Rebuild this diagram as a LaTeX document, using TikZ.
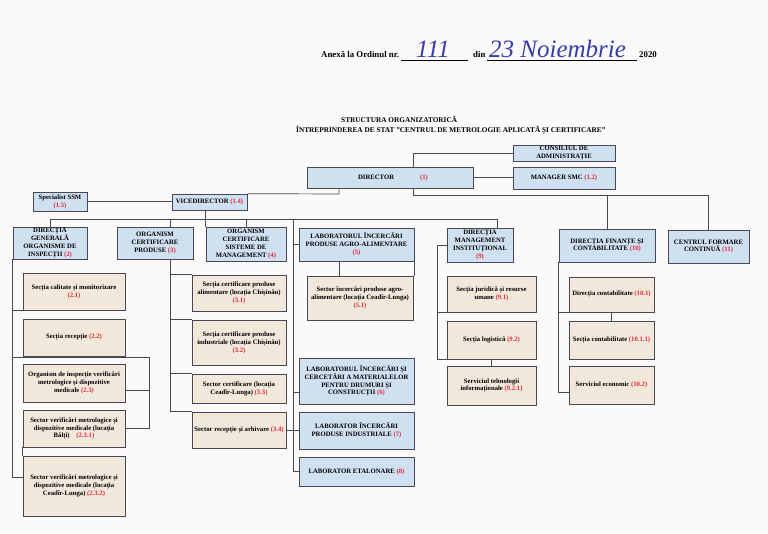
\documentclass[tikz,border=0pt]{standalone}
\usepackage{fontspec}
\setmainfont{Liberation Serif}
\usetikzlibrary{calc}
\definecolor{linegray}{RGB}{72,72,82}
\definecolor{boxblue}{RGB}{207,224,241}
\definecolor{boxbeige}{RGB}{241,232,220}
\definecolor{nrred}{RGB}{228,40,52}
\definecolor{inkblue}{RGB}{52,62,170}
\definecolor{paper}{RGB}{251,249,249}
\newcommand{\rnum}[1]{\textcolor{nrred}{#1}}
\tikzset{
 orgbox/.style={draw=linegray, line width=.7pt, align=center, inner sep=1pt, font=\fontsize{6.7}{7.9}\selectfont\bfseries},
 blu/.style={orgbox, fill=boxblue},
 bej/.style={orgbox, fill=boxbeige},
 wire/.style={draw=linegray, line width=.7pt},
 hand/.style={text=inkblue, inner sep=0pt, font=\fontsize{25}{25}\selectfont\itshape},
 head/.style={anchor=base west, inner sep=0pt, font=\fontsize{8.8}{9}\selectfont\bfseries},
 titl/.style={anchor=base west, inner sep=0pt, font=\fontsize{7.3}{8}\selectfont\bfseries},
}
\begin{document}
\begin{tikzpicture}[x=1pt, y=-1pt]
\fill[paper] (0,0) rectangle (768,533);
\useasboundingbox (0,0) rectangle (768,533);
% antet
\node[head] (anexa) at (321,57) {Anexă la Ordinul nr.};
\draw (401,60) -- (468,60);
\node[hand, anchor=base] (nr) at (433,57) {111};
\node[head] (din) at (473,57) {din};
\draw (487,60) -- (637,60);
\node[hand, anchor=base west] (data) at (489,57) {23 Noiembrie};
\node[head] (an) at (639,57) {2020};
\node[titl] (titlu) at (341,122) {STRUCTURA ORGANIZATORICĂ};
\node[titl] (titlu2) at (296,132) {ÎNTREPRINDEREA DE STAT "CENTRUL DE METROLOGIE APLICATĂ ȘI CERTIFICARE"};
% conducere
\node[blu, minimum width=102pt, minimum height=16pt] (cons) at (564,153) {CONSILIUL DE\\ADMINISTRAȚIE};
\node[blu, minimum width=166pt, minimum height=21pt] (dir) at (390,177.5) {\hspace*{6pt}DIRECTOR\hspace{26pt}\rnum{(1)}};
\node[blu, minimum width=102pt, minimum height=22pt] (smc) at (564,178) {MANAGER SMC \rnum{(1.2)}};
\node[blu, minimum width=54pt, minimum height=19pt] (ssm) at (60,201.5) {Specialist SSM\\\rnum{(1.5)}};
\node[blu, minimum width=75pt, minimum height=16pt] (vice) at (209.5,202) {VICEDIRECTOR \rnum{(1.4)}};
% subdiviziuni
\node[blu, minimum width=74pt, minimum height=32pt] (dg) at (50,243) {DIRECȚIA\\GENERALĂ\\ORGANISME DE\\INSPECȚII \rnum{(2)}};
\node[blu, minimum width=76pt, minimum height=32pt] (ocp) at (155,243) {ORGANISM\\CERTIFICARE\\PRODUSE \rnum{(3)}};
\node[blu, minimum width=80pt, minimum height=34pt] (ocs) at (246,244) {ORGANISM\\CERTIFICARE\\SISTEME DE\\MANAGEMENT \rnum{(4)}};
\node[blu, minimum width=115pt, minimum height=33pt] (lab5) at (356.5,244.5) {LABORATORUL ÎNCERCĂRI\\PRODUSE AGRO-ALIMENTARE\\\rnum{(5)}};
\node[blu, minimum width=66pt, minimum height=34pt] (dmi) at (480,245) {DIRECȚIA\\MANAGEMENT\\INSTITUȚIONAL\\\rnum{(9)}};
\node[blu, minimum width=96pt, minimum height=33pt] (dfc) at (607,245.5) {DIRECȚIA FINANȚE ȘI\\CONTABILITATE \rnum{(10)}};
\node[blu, minimum width=81pt, minimum height=33pt] (cfc) at (708.5,246.5) {CENTRUL FORMARE\\CONTINUĂ \rnum{(11)}};
\node[blu, minimum width=115pt, minimum height=46pt] (lab6) at (356.5,381) {LABORATORUL ÎNCERCĂRI ȘI\\CERCETĂRI A MATERIALELOR\\PENTRU DRUMURI ȘI\\CONSTRUCȚII \rnum{(6)}};
\node[blu, minimum width=115pt, minimum height=37pt] (lab7) at (356.5,430.5) {LABORATOR ÎNCERCĂRI\\PRODUSE INDUSTRIALE \rnum{(7)}};
\node[blu, minimum width=115pt, minimum height=29pt] (lab8) at (356.5,471.5) {LABORATOR ETALONARE \rnum{(8)}};
% sectii
\node[bej, minimum width=102pt, minimum height=37pt] (s21) at (74,291.5) {Secția calitate și monitorizare\\\rnum{(2.1)}};
\node[bej, minimum width=102pt, minimum height=37pt] (s22) at (74,337.5) {Secția recepție \rnum{(2.2)}};
\node[bej, minimum width=102pt, minimum height=38pt] (s23) at (74,383) {Organism de inspecție verificări\\metrologice și dispozitive\\medicale \rnum{(2.3)}};
\node[bej, minimum width=102pt, minimum height=37pt] (s231) at (74,428.5) {Sector verificări metrologice și\\dispozitive medicale (locația\\Bălți)\quad\rnum{(2.3.1)}};
\node[bej, minimum width=102pt, minimum height=60pt] (s232) at (74,486) {Sector verificări metrologice și\\dispozitive medicale (locația\\Ceadîr-Lunga) \rnum{(2.3.2)}};
\node[bej, minimum width=94pt, minimum height=36pt] (s31) at (239,293) {Secția certificare produse\\alimentare (locația Chișinău)\\\rnum{(3.1)}};
\node[bej, minimum width=94pt, minimum height=45pt] (s32) at (239,342.5) {Secția certificare produse\\industriale (locația Chișinău)\\\rnum{(3.2)}};
\node[bej, minimum width=94pt, minimum height=29pt] (s33) at (239,388.5) {Sector certificare (locația\\Ceadîr-Lunga) \rnum{(3.3)}};
\node[bej, minimum width=94pt, minimum height=36pt] (s34) at (239,430) {Sector recepție și arhivare \rnum{(3.4)}};
\node[bej, minimum width=106pt, minimum height=44pt] (s51) at (360,298) {Sector încercări produse agro-\\alimentare (locația Ceadîr-Lunga)\\\rnum{(5.1)}};
\node[bej, minimum width=89pt, minimum height=36pt] (s91) at (491.5,294) {Secția juridică și resurse\\umane \rnum{(9.1)}};
\node[bej, minimum width=89pt, minimum height=38pt] (s92) at (491.5,340) {Secția logistică \rnum{(9.2)}};
\node[bej, minimum width=89pt, minimum height=39pt] (s921) at (491.5,385.5) {Serviciul tehnologii\\informaționale \rnum{(9.2.1)}};
\node[bej, minimum width=85pt, minimum height=35pt] (s101) at (611.5,294.5) {Direcția contabilitate \rnum{(10.1)}};
\node[bej, minimum width=85pt, minimum height=38pt] (s1011) at (611.5,340) {Secția contabilitate \rnum{(10.1.1)}};
\node[bej, minimum width=85pt, minimum height=38pt] (s102) at (611.5,385) {Serviciul economic \rnum{(10.2)}};
% legaturi conducere
\coordinate (c1) at (413,152);
\draw[wire] (dir.north -| c1) |- (cons.west);
\draw[wire] (dir.east) -- (smc.west |- dir.east);
\draw[wire] (ssm.east) -- (vice.west |- ssm.east);
\coordinate (c2) at (339,194);
\draw[wire] (vice.north east) -- (c2) -- (c2 |- dir.south);
\coordinate (c3) at (413,195);
\draw[wire] (c3 |- dir.south) -- (c3) -| (cfc.north);
\draw[wire] (dfc.north) -- (dfc.north |- c3);
% magistrala vicedirector
\coordinate (c4) at (497,219);
\draw[wire] (dg.north) |- (c4) -- (c4 |- dmi.north);
\draw[wire] (vice.south -| ocs.north west) -- (ocs.north west);
\coordinate (k3) at (170,0);
\draw[wire] (k3 |- c4) -- (k3 |- ocp.north);
\draw[wire] (ocs.north) -- (ocs.north |- c4);
% laboratoare
\coordinate (k5) at (293,0);
\draw[wire] (k5 |- c4) |- (lab8.west);
\draw[wire] (k5 |- lab5.west) -- (lab5.west);
\coordinate (l6) at ([yshift=-11pt]lab6.west);
\draw[wire] (l6 -| k5) -- (l6);
\draw[wire] (k5 |- lab7.west) -- (lab7.west);
\draw[wire] (s34.east) -- (s34.east -| k5);
% coloana 3
\draw[wire] (k3 |- ocp.south) |- (s34.north west);
\draw[wire] (k3 |- s31.north) -- (s31.north west);
\draw[wire] (k3 |- s32.north) -- (s32.north west);
\draw[wire] (k3 |- s33.north) -- (s33.north west);
% coloana 2
\coordinate (e2) at ([yshift=9pt]s232.west);
\draw[wire] (dg.south west) |- (e2);
\draw[wire] (dg.south west |- s21.south) -- (s21.south west);
\coordinate (k23) at (149,357);
\draw[wire] (dg.south west |- k23) -- (k23) |- (s231.east);
\coordinate (e23) at ([yshift=-7pt]s23.east);
\draw[wire] (e23) -- (e23 -| k23);
\draw[wire] (s231.south west) -- (s232.north west);
% coloana 5
\coordinate (k51) at (339,0);
\draw[wire] (k51 |- lab5.south) -- (k51 |- s51.north);
\draw[wire] (lab5.south east) -- (lab5.south east |- s51.north);
% coloana 9
\coordinate (k9) at (437,0);
\draw[wire] (dmi.west) -| (k9 |- s92.south west) -- (s92.south west);
\draw[wire] (k9 |- s91.south west) -- (s91.south west);
\draw[wire] (s92.south) -- (s921.north);
% coloana 10
\coordinate (e10) at ([yshift=-7pt]s102.west);
\draw[wire] (dfc.south west) |- (e10);
\draw[wire] (dfc.south west |- s101.south) -- (s101.south west);
\draw[wire] (s101.south) -- (s1011.north);
\end{tikzpicture}
\end{document}
